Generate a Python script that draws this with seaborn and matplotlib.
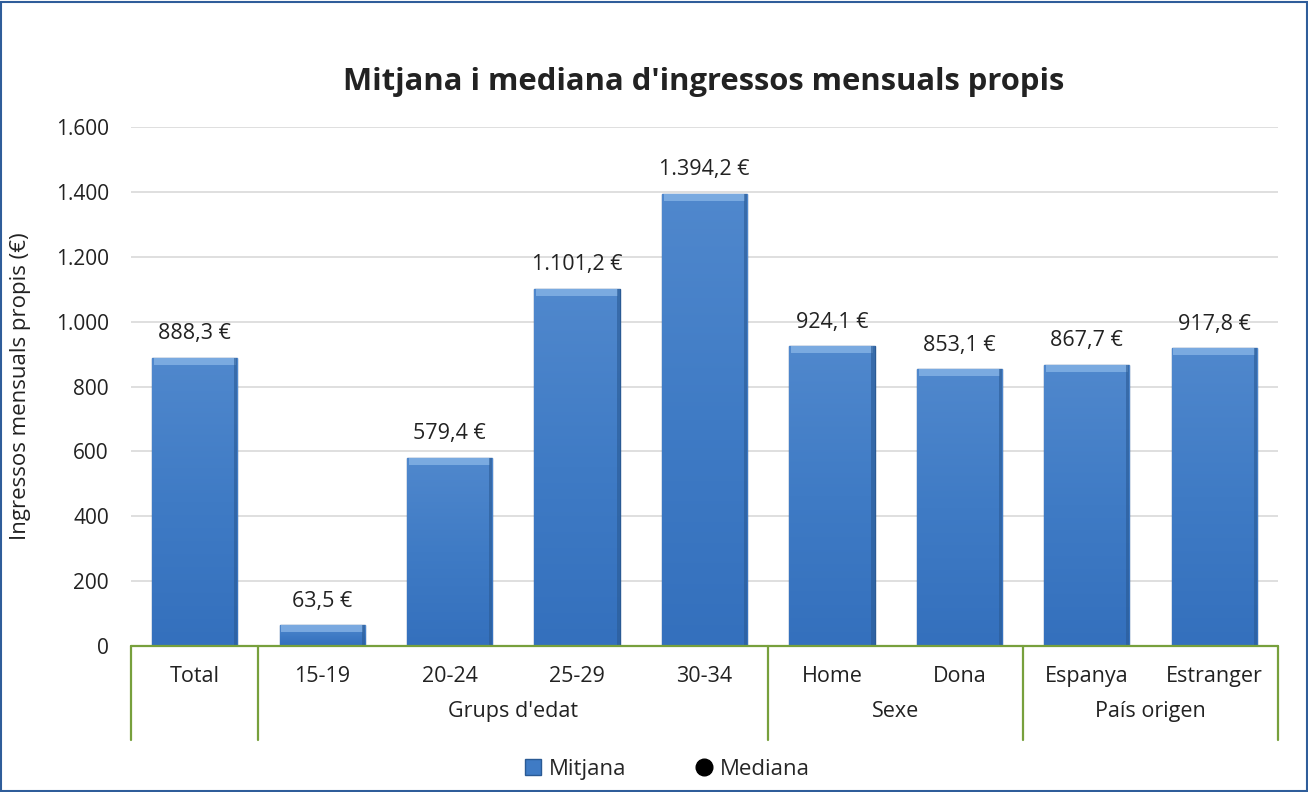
import numpy as np
import pandas as pd
import matplotlib.pyplot as plt
import seaborn as sns
from matplotlib.lines import Line2D
from matplotlib.patches import Rectangle

categories = ["Total", "15-19", "20-24", "25-29", "30-34", "Home", "Dona", "Espanya", "Estranger"]
mitjana = [888.3, 63.5, 579.4, 1101.2, 1394.2, 924.1, 853.1, 867.7, 917.8]
groups = ["", "Grups d'edat", "Grups d'edat", "Grups d'edat", "Grups d'edat", "Sexe", "Sexe", "País origen", "País origen"]
yticks = [0, 200, 400, 600, 800, 1000, 1200, 1400, 1600]

df = pd.DataFrame({"cat": categories, "val": mitjana, "grup": groups})

sns.set_style("white")
plt.rcParams["font.family"] = ["Open Sans", "DejaVu Sans"]

fig = plt.figure(figsize=(13.08, 7.92), dpi=100)
ax = fig.add_axes([0.1002, 0.1843, 0.8768, 0.6553])

sns.barplot(data=df, x="cat", y="val", order=categories, color="#3f7bc5",
            width=0.67, edgecolor="#2a5a94", linewidth=1.0, ax=ax, zorder=3)

# gradient fill per bar (lighter top, darker bottom)
grad = np.linspace(0, 1, 256).reshape(-1, 1)
cmap = sns.blend_palette(["#3470bd", "#3f7bc5", "#5088cd"], as_cmap=True)
for p in ax.patches:
    x0, y0 = p.get_x(), p.get_y()
    w, h = p.get_width(), p.get_height()
    im = ax.imshow(grad, extent=[x0, x0 + w, y0, y0 + h], origin="lower",
                   cmap=cmap, aspect="auto", zorder=3.5)
    im.set_clip_path(p)
    # top bevel
    bev = min(h, 7 * 1600 / 519)
    ax.add_patch(Rectangle((x0 + 0.015, y0 + h - bev), w - 0.03, bev,
                           facecolor="#86b3e6", edgecolor="none", alpha=0.8, zorder=3.6))
    # darker right edge
    ax.add_patch(Rectangle((x0 + w - 0.025, y0), 0.025, h,
                           facecolor="#2a5a94", edgecolor="none", alpha=0.6, zorder=3.7))

for i, v in enumerate(mitjana):
    txt = f"{v:,.1f}".replace(",", "X").replace(".", ",").replace("X", ".") + " €"
    ax.text(i, v + 42, txt, ha="center", va="bottom", fontsize=15.5, color="#222222", zorder=5)

ax.set_xlim(-0.5, len(categories) - 0.5)
ax.set_ylim(0, 1600)
ax.set_yticks(yticks)
ax.set_yticklabels([f"{t:,}".replace(",", ".") for t in yticks], fontsize=15, color="#222222")
ax.tick_params(axis="y", length=0, pad=16)
ax.grid(axis="y", color="#d9d9d9", linewidth=1.2, zorder=0)
ax.set_axisbelow(True)
for s in ax.spines.values():
    s.set_visible(False)
ax.set_xlabel("")
ax.set_ylabel("Ingressos mensuals propis (€)", fontsize=16, color="#222222", labelpad=18)
ax.set_xticks([])

# multi-level category table below the axis
green = "#77a03c"
trans = ax.get_xaxis_transform()
ax.plot([-0.5, len(categories) - 0.5], [0, 0], color=green, lw=1.6, transform=trans, clip_on=False, zorder=6)
bounds = [-0.5, 0.5, 4.5, 6.5, 8.5]
for b in bounds:
    ax.plot([b, b], [0, -0.181], color=green, lw=1.6, transform=trans, clip_on=False)
for i, c in enumerate(categories):
    ax.text(i, -0.058, c, ha="center", va="center", fontsize=15.5, color="#222222", transform=trans)
seen = []
for g in groups:
    if g and g not in seen:
        seen.append(g)
for g in seen:
    idx = [i for i, gg in enumerate(groups) if gg == g]
    ax.text(np.mean(idx), -0.127, g, ha="center", va="center", fontsize=15.5, color="#222222", transform=trans)

fig.suptitle("Mitjana i mediana d'ingressos mensuals propis", x=0.538, y=0.915,
             fontsize=22.3, fontweight="bold", color="#222222")

handles = [Line2D([], [], marker="s", color="none", markerfacecolor="#3f7bc5",
                  markeredgecolor="#2a5a94", markersize=11, label="Mitjana"),
           Line2D([], [], marker="o", color="none", markerfacecolor="black",
                  markeredgecolor="black", markersize=12, label="Mediana")]
fig.legend(handles=handles, loc="center", bbox_to_anchor=(0.509, 0.029), ncol=2,
           frameon=False, fontsize=16, handletextpad=0.2, columnspacing=3.0, handlelength=1)

fig.add_artist(Rectangle((0.001, 0.001), 0.998, 0.997, transform=fig.transFigure,
                         fill=False, edgecolor="#2f5d9a", linewidth=1.5))

fig.savefig("out.png", dpi=100)
